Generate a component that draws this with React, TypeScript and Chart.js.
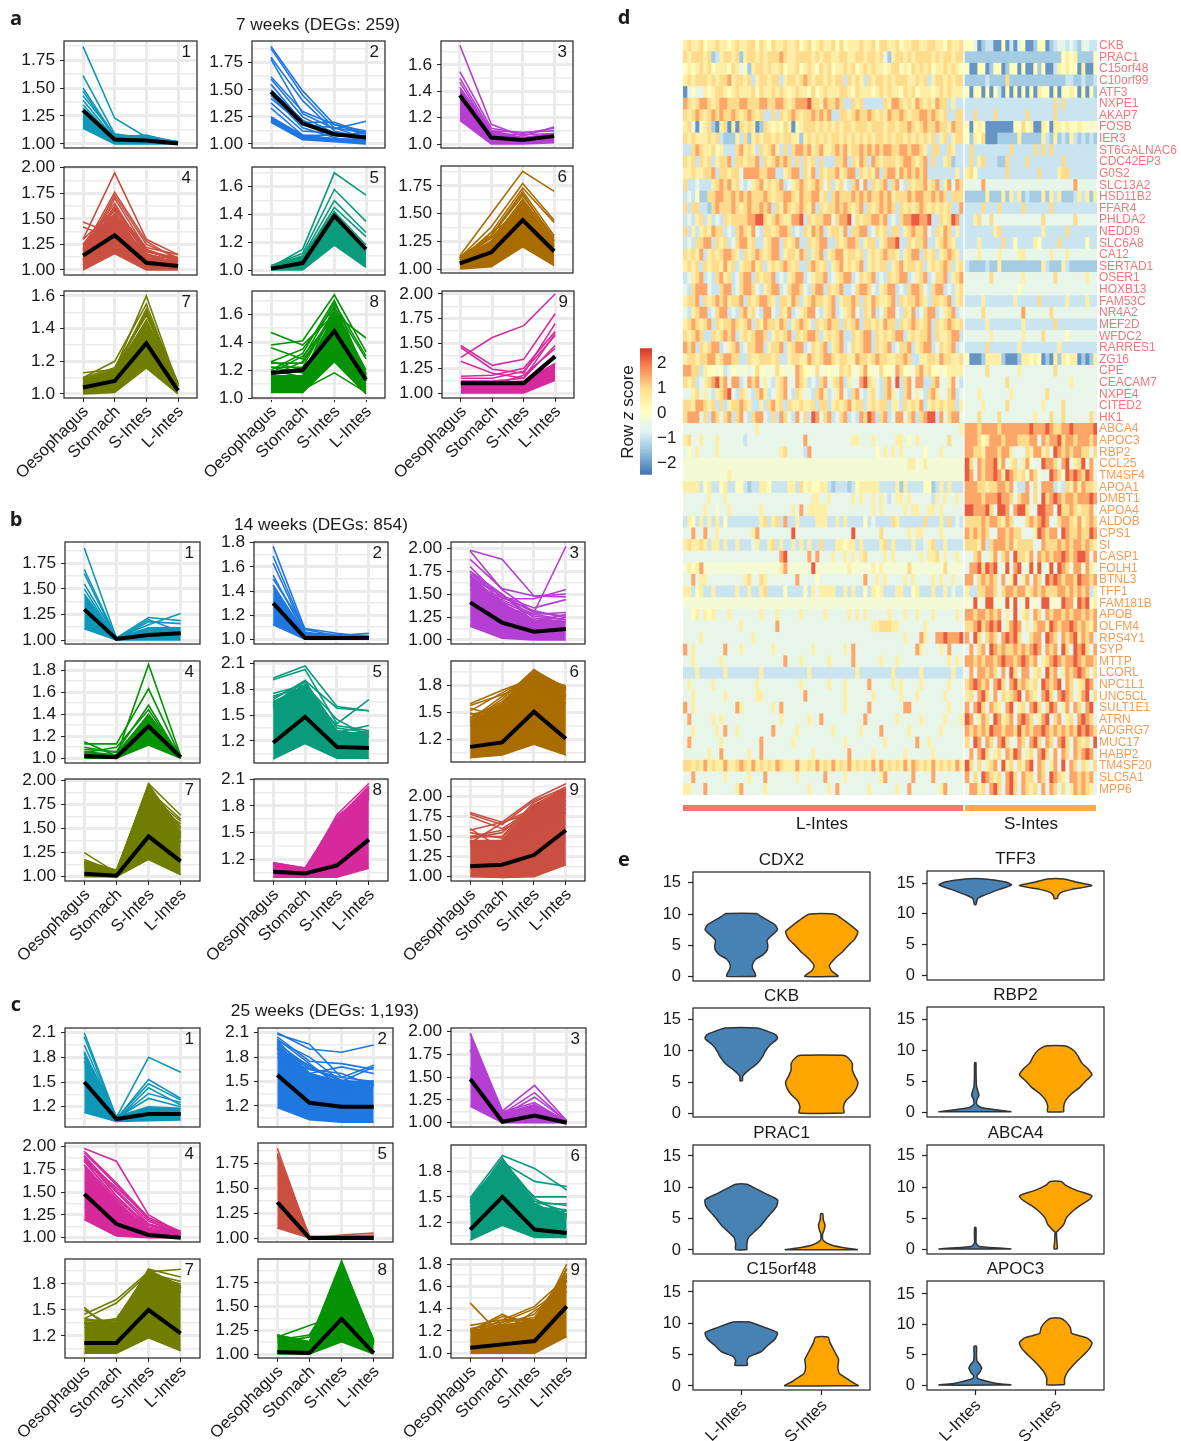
import React, { useEffect, useRef } from 'react';
import { Chart, registerables } from 'chart.js';
Chart.register(...registerables);

const FONT = '"Liberation Sans", Arial, sans-serif';
Chart.defaults.font.family = FONT;
Chart.defaults.color = '#1a1a1a';

/* ---------- line panels: a1..a9, b1..b9, c1..c9 ---------- */
const regionLabels = ['Oesophagus', 'Stomach', 'S-Intes', 'L-Intes'];
const cyan = '#0f97b8', blue = '#1f77e0', purple = '#b53fd2', red = '#c94f40', teal = '#0a9a7c', brown = '#a86c00', olive = '#6f7d00', green = '#059205', magenta = '#d62a9c';
const panelColors = [
  cyan, blue, purple, red, teal, brown, olive, green, magenta,
  cyan, blue, purple, green, teal, brown, olive, magenta, red,
  cyan, blue, purple, magenta, red, teal, olive, green, brown,
];
const t25 = ['1.00', '1.25', '1.50', '1.75'];
const t25b = ['1.00', '1.25', '1.50', '1.75', '2.00'];
const t2 = ['1.0', '1.2', '1.4', '1.6'];
const t28 = ['1.0', '1.2', '1.4', '1.6', '1.8'];
const t3 = ['1.2', '1.5', '1.8', '2.1'];
const t3s = ['1.2', '1.5', '1.8'];
const panelTicks = [
  t25, t25, t2, t25b, t2, t25, t2, t2, t25b,
  t25, t28, t25b, t28, t3, t3s, t25b, t3, t25b,
  t3, t3, t25b, t25b, t25, t3s, t3s, t25, t28,
];
const panelRanges = [
  [0.964, 1.92], [0.963, 1.95], [0.97, 1.782], [0.951, 2.007], [0.964, 1.742], [0.964, 1.928], [0.9755, 1.63], [1.0, 1.767], [0.95, 2.03],
  [0.961, 1.959], [0.961, 1.806], [0.956, 2.069], [0.957, 1.882], [0.945, 2.127], [0.952, 2.074], [0.955, 2.018], [0.956, 2.1], [0.946, 2.22],
  [0.953, 2.157], [0.942, 2.158], [0.953, 2.04], [0.953, 2.04], [0.96, 1.954], [0.953, 2.102], [0.946, 2.088], [0.958, 2.0], [0.958, 1.845],
];
const panelMeans = [
  [1.30, 1.04, 1.03, 1.005], [1.48, 1.19, 1.09, 1.06], [1.37, 1.05, 1.03, 1.06], [1.14, 1.34, 1.07, 1.04], [1.01, 1.05, 1.39, 1.15], [1.05, 1.15, 1.44, 1.16], [1.04, 1.08, 1.31, 1.02], [1.18, 1.20, 1.48, 1.13], [1.10, 1.10, 1.10, 1.37],
  [1.30, 1.01, 1.05, 1.065], [1.30, 1.01, 1.01, 1.01], [1.41, 1.19, 1.09, 1.12], [1.02, 1.01, 1.29, 1.01], [1.18, 1.48, 1.13, 1.12], [1.12, 1.17, 1.51, 1.21], [1.03, 1.01, 1.42, 1.16], [1.06, 1.04, 1.13, 1.42], [1.13, 1.15, 1.27, 1.58],
  [1.50, 1.05, 1.11, 1.11], [1.58, 1.24, 1.19, 1.19], [1.48, 1.01, 1.08, 1.0], [1.48, 1.15, 1.03, 1.0], [1.36, 1.0, 1.0, 1.0], [1.12, 1.50, 1.12, 1.08], [1.12, 1.12, 1.50, 1.23], [1.02, 1.01, 1.37, 1.01], [1.05, 1.08, 1.11, 1.42],
];
const panelLows = [
  [1.14, 1.0, 1.0, 1.0], [1.20, 1.04, 1.02, 1.0], [1.18, 1.0, 1.0, 1.01], [1.0, 1.16, 1.0, 1.0], [1.0, 1.0, 1.18, 1.02], [1.0, 1.02, 1.2, 1.03], [1.0, 1.01, 1.16, 1.0], [1.04, 1.04, 1.26, 1.03], [1.0, 1.0, 1.0, 1.13],
  [1.11, 1.0, 1.0, 1.0], [1.12, 1.0, 1.0, 1.0], [1.15, 1.02, 1.0, 1.0], [1.0, 1.0, 1.12, 1.0], [0.99, 1.17, 1.0, 1.0], [1.0, 1.03, 1.15, 1.03], [1.0, 1.0, 1.18, 1.02], [1.0, 1.0, 1.0, 1.1], [1.0, 0.99, 1.0, 1.15],
  [1.13, 1.02, 1.03, 1.04], [1.18, 1.03, 1.0, 1.0], [1.18, 1.0, 1.0, 1.0], [1.2, 1.02, 1.0, 1.0], [1.1, 1.0, 1.0, 1.0], [1.0, 1.17, 1.03, 1.03], [1.0, 1.0, 1.18, 1.03], [1.0, 1.0, 1.13, 1.0], [1.0, 1.0, 1.0, 1.15],
];
const panelHighs = [
  [1.30, 1.05, 1.05, 1.02], [1.25, 1.08, 1.05, 1.04], [1.43, 1.1, 1.05, 1.08], [1.25, 1.55, 1.12, 1.09], [1.03, 1.1, 1.42, 1.14], [1.1, 1.25, 1.6, 1.22], [1.09, 1.14, 1.45, 1.06], [1.16, 1.16, 1.6, 1.14], [1.1, 1.1, 1.12, 1.3],
  [1.45, 1.02, 1.12, 1.12], [1.45, 1.04, 1.03, 1.02], [1.7, 1.4, 1.22, 1.2], [1.06, 1.03, 1.4, 1.02], [1.65, 1.85, 1.3, 1.28], [1.4, 1.6, 1.95, 1.75], [1.15, 1.06, 1.95, 1.45], [1.16, 1.1, 1.65, 2.0], [1.45, 1.45, 1.9, 2.1],
  [1.85, 1.08, 1.2, 1.18], [1.95, 1.6, 1.5, 1.5], [1.98, 1.1, 1.2, 1.02], [1.8, 1.4, 1.1, 1.04], [1.85, 1.02, 1.01, 1.02], [1.45, 1.9, 1.4, 1.3], [1.35, 1.35, 1.95, 1.75], [1.2, 1.12, 1.92, 1.12], [1.2, 1.25, 1.3, 1.7],
];
const panelLines = [
  [[1.87, 1.23, 1.06, 1.02], [1.61, 1.09, 1.05, 1.01], [1.50, 1.07, 1.07, 1.02], [1.47, 1.06, 1.08, 1.01], [1.43, 1.08, 1.05, 1.01], [1.39, 1.05, 1.04, 1.02], [1.35, 1.04, 1.07, 1.01], [1.32, 1.06, 1.03, 1.01]],
  [[1.90, 1.49, 1.18, 1.09], [1.88, 1.45, 1.15, 1.10], [1.80, 1.40, 1.12, 1.05], [1.78, 1.28, 1.14, 1.21], [1.62, 1.3, 1.18, 1.12], [1.6, 1.25, 1.1, 1.06], [1.55, 1.2, 1.2, 1.1], [1.5, 1.22, 1.08, 1.08], [1.45, 1.15, 1.06, 1.12], [1.42, 1.18, 1.15, 1.05], [1.38, 1.12, 1.1, 1.03], [1.33, 1.08, 1.08, 1.1], [1.25, 1.06, 1.04, 1.02], [1.22, 1.05, 1.1, 1.06]],
  [[1.75, 1.15, 1.06, 1.13], [1.55, 1.12, 1.08, 1.12], [1.5, 1.1, 1.09, 1.1], [1.47, 1.08, 1.07, 1.08]],
  [[1.47, 1.35, 1.1, 1.05], [1.42, 1.3, 1.05, 1.12], [1.3, 1.95, 1.3, 1.15], [1.2, 1.76, 1.28, 1.1], [1.15, 1.73, 1.25, 1.12], [1.1, 1.7, 1.2, 1.08], [1.25, 1.65, 1.15, 1.05], [1.08, 1.6, 1.22, 1.15], [1.05, 1.55, 1.12, 1.05], [1.12, 1.5, 1.15, 1.1], [1.18, 1.6, 1.2, 1.1], [1.22, 1.62, 1.14, 1.07], [1.1, 1.62, 1.18, 1.12], [1.3, 1.58, 1.16, 1.06], [1.15, 1.55, 1.18, 1.1]],
  [[1.02, 1.15, 1.7, 1.54], [1.03, 1.12, 1.58, 1.35], [1.02, 1.1, 1.5, 1.27], [1.01, 1.08, 1.45, 1.24], [1.0, 1.05, 1.42, 1.18]],
  [[1.12, 1.5, 1.88, 1.7], [1.1, 1.38, 1.77, 1.44], [1.08, 1.33, 1.73, 1.42], [1.06, 1.3, 1.68, 1.25], [1.05, 1.25, 1.62, 1.22], [1.04, 1.22, 1.55, 1.2], [1.1, 1.28, 1.5, 1.18], [1.1, 1.3, 1.66, 1.28], [1.09, 1.28, 1.6, 1.24], [1.11, 1.3, 1.7, 1.3], [1.06, 1.25, 1.63, 1.26], [1.08, 1.33, 1.52, 1.2]],
  [[1.13, 1.15, 1.6, 1.05], [1.1, 1.2, 1.55, 1.04], [1.09, 1.14, 1.5, 1.06], [1.06, 1.12, 1.45, 1.03], [1.03, 1.1, 1.38, 1.05], [1.08, 1.1, 1.41, 1.02], [1.1, 1.16, 1.48, 1.05], [1.07, 1.14, 1.52, 1.07], [1.09, 1.15, 1.44, 1.03], [1.05, 1.16, 1.5, 1.06]],
  [[1.47, 1.38, 1.6, 1.43], [1.38, 1.41, 1.74, 1.33], [1.36, 1.28, 1.68, 1.3], [1.26, 1.35, 1.65, 1.28], [1.25, 1.25, 1.6, 1.17], [1.22, 1.18, 1.55, 1.15], [1.2, 1.32, 1.7, 1.16], [1.15, 1.12, 1.5, 1.12], [1.1, 1.08, 1.4, 1.1], [1.08, 1.06, 1.18, 1.04], [1.05, 1.04, 1.35, 1.06], [1.12, 1.15, 1.3, 1.08], [1.22, 1.22, 1.63, 1.2], [1.18, 1.3, 1.58, 1.17], [1.2, 1.15, 1.66, 1.15], [1.26, 1.2, 1.52, 1.12], [1.16, 1.26, 1.62, 1.18]],
  [[1.36, 1.56, 1.68, 2.0], [1.48, 1.28, 1.34, 1.8], [1.46, 1.24, 1.2, 1.7], [1.32, 1.2, 1.15, 1.6], [1.17, 1.18, 1.25, 1.62], [1.15, 1.15, 1.22, 1.58], [1.12, 1.12, 1.15, 1.48], [1.1, 1.08, 1.18, 1.45]],
  [[1.9, 1.02, 1.06, 1.05], [1.69, 1.02, 1.22, 1.19], [1.65, 1.01, 1.2, 1.08], [1.55, 1.02, 1.15, 1.26], [1.5, 1.0, 1.18, 1.16]],
  [[1.77, 1.08, 1.03, 1.05], [1.69, 1.06, 1.02, 1.02], [1.63, 1.05, 1.04, 1.03], [1.53, 1.04, 1.03, 1.02], [1.5, 1.09, 1.05, 1.02]],
  [[1.98, 1.88, 1.48, 1.5], [1.97, 1.55, 1.3, 2.02], [1.88, 1.56, 1.48, 1.47], [1.8, 1.45, 1.45, 1.55], [1.75, 1.5, 1.2, 1.28], [1.7, 1.48, 1.35, 1.44], [1.65, 1.42, 1.12, 1.25], [1.6, 1.35, 1.28, 1.3], [1.75, 1.42, 1.26, 1.22], [1.68, 1.48, 1.3, 1.26], [1.72, 1.5, 1.24, 1.2], [1.62, 1.46, 1.32, 1.24], [1.55, 1.44, 1.28, 1.22]],
  [[1.15, 1.02, 1.85, 1.02], [1.13, 1.13, 1.63, 1.01], [1.08, 1.06, 1.48, 1.0], [1.05, 1.1, 1.44, 1.01], [1.1, 1.05, 1.38, 1.02]],
  [[1.93, 2.07, 1.6, 1.55], [1.91, 2.03, 1.4, 1.68], [1.75, 1.85, 1.3, 1.38], [1.68, 1.9, 1.58, 1.55], [1.65, 1.8, 1.22, 1.3], [1.6, 1.85, 1.45, 1.25], [1.7, 1.88, 1.35, 1.3], [1.72, 1.82, 1.32, 1.27], [1.62, 1.9, 1.3, 1.24], [1.66, 1.78, 1.38, 1.32], [1.58, 1.84, 1.28, 1.3]],
  [[1.6, 1.75, 1.88, 1.78], [1.58, 1.7, 1.85, 1.7], [1.52, 1.72, 1.9, 1.65], [1.55, 1.45, 1.92, 1.78], [1.5, 1.35, 1.8, 1.6], [1.4, 1.65, 1.98, 1.75], [1.35, 1.5, 1.9, 1.68], [1.45, 1.62, 1.97, 1.78], [1.48, 1.55, 1.95, 1.75], [1.42, 1.68, 1.93, 1.7], [1.38, 1.52, 1.96, 1.77], [1.44, 1.6, 1.9, 1.8]],
  [[1.25, 1.04, 1.97, 1.64], [1.15, 1.05, 1.9, 1.6], [1.12, 1.02, 1.85, 1.58], [1.08, 1.05, 1.8, 1.55], [1.1, 1.03, 1.75, 1.44], [1.05, 1.02, 1.72, 1.4], [1.16, 1.07, 1.95, 1.5], [1.18, 1.05, 1.93, 1.42], [1.14, 1.06, 1.9, 1.52], [1.12, 1.05, 1.96, 1.47], [1.13, 1.06, 1.88, 1.36]],
  [[1.15, 1.06, 1.7, 2.05], [1.14, 1.05, 1.6, 1.95], [1.1, 1.07, 1.5, 1.9], [1.08, 1.05, 1.4, 1.93], [1.12, 1.04, 1.45, 1.88], [1.16, 1.1, 1.65, 2.02], [1.12, 1.09, 1.68, 1.96], [1.14, 1.08, 1.6, 2.0], [1.1, 1.1, 1.55, 1.98], [1.15, 1.07, 1.5, 1.94]],
  [[1.8, 1.68, 1.97, 2.16], [1.78, 1.65, 1.95, 2.1], [1.75, 1.6, 1.85, 2.05], [1.6, 1.35, 1.7, 2.0], [1.58, 1.68, 1.8, 1.95], [1.42, 1.67, 1.85, 1.9], [1.45, 1.4, 1.6, 1.85], [1.38, 1.45, 1.7, 1.8], [1.5, 1.5, 1.93, 2.12], [1.48, 1.55, 1.88, 2.05], [1.55, 1.48, 1.9, 2.0], [1.42, 1.45, 1.84, 2.08], [1.5, 1.58, 1.8, 2.02]],
  [[2.1, 1.07, 1.8, 1.62], [2.05, 1.05, 1.53, 1.3], [1.95, 1.06, 1.48, 1.28], [1.87, 1.04, 1.43, 1.22], [1.8, 1.05, 1.36, 1.25], [1.75, 1.06, 1.3, 1.2]],
  [[2.1, 1.9, 1.86, 1.95], [2.08, 1.96, 1.55, 1.7], [2.05, 1.75, 1.72, 1.65], [2.0, 1.8, 1.5, 1.68], [1.95, 1.6, 1.68, 1.6], [1.9, 1.7, 1.45, 1.5], [1.85, 1.55, 1.5, 1.5], [1.8, 1.65, 1.6, 1.45], [1.98, 1.65, 1.55, 1.5], [2.0, 1.6, 1.48, 1.45], [1.97, 1.68, 1.5, 1.5], [2.02, 1.72, 1.42, 1.48], [1.92, 1.66, 1.52, 1.46], [1.9, 1.58, 1.47, 1.5]],
  [[1.98, 1.13, 1.41, 1.02], [1.8, 1.1, 1.33, 1.01], [1.6, 1.08, 1.28, 1.02], [1.5, 1.12, 1.22, 1.01]],
  [[1.98, 1.84, 1.25, 1.05], [1.95, 1.6, 1.22, 1.07], [1.93, 1.58, 1.2, 1.03], [1.9, 1.52, 1.18, 1.05], [1.85, 1.55, 1.22, 1.04], [1.85, 1.42, 1.15, 1.06], [1.86, 1.5, 1.15, 1.05], [1.88, 1.46, 1.12, 1.05], [1.84, 1.42, 1.14, 1.04], [1.9, 1.45, 1.1, 1.04]],
  [[1.9, 1.0, 1.03, 1.05], [1.82, 1.01, 1.02, 1.03]],
  [[1.49, 1.98, 1.83, 1.58], [1.45, 1.9, 1.68, 1.62], [1.42, 1.85, 1.5, 1.5], [1.38, 1.8, 1.45, 1.4], [1.35, 1.75, 1.38, 1.35], [1.3, 1.88, 1.42, 1.42], [1.46, 1.92, 1.45, 1.33], [1.44, 1.95, 1.4, 1.3], [1.48, 1.9, 1.35, 1.33], [1.38, 1.93, 1.48, 1.28], [1.42, 1.87, 1.42, 1.26]],
  [[1.53, 1.2, 1.97, 1.88], [1.45, 1.62, 1.94, 1.97], [1.4, 1.58, 1.92, 1.83], [1.5, 1.28, 1.92, 1.78], [1.35, 1.38, 1.9, 1.8], [1.3, 1.25, 1.85, 1.75], [1.38, 1.38, 1.96, 1.78], [1.36, 1.36, 1.97, 1.7], [1.34, 1.4, 1.94, 1.76], [1.4, 1.34, 1.96, 1.72]],
  [[1.2, 1.1, 1.95, 1.15], [1.18, 1.3, 1.42, 1.1], [1.15, 1.2, 1.75, 1.13], [1.12, 1.18, 1.7, 1.1], [1.2, 1.13, 1.96, 1.14], [1.18, 1.12, 1.98, 1.12]],
  [[1.45, 1.15, 1.25, 1.6], [1.22, 1.18, 1.22, 1.8], [1.2, 1.35, 1.2, 1.76], [1.18, 1.3, 1.42, 1.68], [1.15, 1.22, 1.28, 1.65], [1.1, 1.28, 1.4, 1.6], [1.12, 1.18, 1.38, 1.55], [1.22, 1.28, 1.32, 1.72], [1.25, 1.3, 1.3, 1.75], [1.2, 1.33, 1.28, 1.66], [1.22, 1.26, 1.35, 1.7]],
];
/* plot rectangles [x0, y0, x1, y1] of the line panels */
const panelBoxes = [
  [64, 41, 197, 148], [252, 41, 385, 148], [441, 41, 573, 148],
  [64, 167, 197, 275], [252, 167, 385, 275], [441, 166, 573, 273],
  [64, 291, 197, 398], [252, 291, 385, 398], [442, 291, 574, 398],
  [65, 542, 200, 644], [254, 542, 388, 644], [451, 542, 585, 644],
  [65, 661, 200, 763], [254, 661, 388, 763], [451, 661, 585, 762],
  [65, 779, 200, 881], [254, 779, 388, 881], [451, 779, 585, 881],
  [65, 1028, 200, 1127], [258, 1028, 393, 1127], [451, 1028, 586, 1127],
  [65, 1143, 200, 1242], [258, 1143, 393, 1242], [451, 1145, 586, 1244],
  [65, 1259, 200, 1358], [258, 1259, 393, 1358], [451, 1259, 586, 1358],
];

/* ---------- heat map ---------- */
const upGenes = ['CKB', 'PRAC1', 'C15orf48', 'C10orf99', 'ATF3', 'NXPE1', 'AKAP7', 'FOSB', 'IER3', 'ST6GALNAC6', 'CDC42EP3', 'G0S2', 'SLC13A2', 'HSD11B2', 'FFAR4', 'PHLDA2', 'NEDD9', 'SLC6A8', 'CA12', 'SERTAD1', 'OSER1', 'HOXB13', 'FAM53C', 'NR4A2', 'MEF2D', 'WFDC2', 'RARRES1', 'ZG16', 'CPE', 'CEACAM7', 'NXPE4', 'CITED2', 'HK1'];
const downGenes = ['ABCA4', 'APOC3', 'RBP2', 'CCL25', 'TM4SF4', 'APOA1', 'DMBT1', 'APOA4', 'ALDOB', 'CPS1', 'SI', 'CASP1', 'FOLH1', 'BTNL3', 'TFF1', 'FAM181B', 'APOB', 'OLFM4', 'RPS4Y1', 'SYP', 'MTTP', 'LCORL', 'NPC1L1', 'UNC5CL', 'SULT1E1', 'ATRN', 'ADGRG7', 'MUC17', 'HABP2', 'TM4SF20', 'SLC5A1', 'MPP6'];
const heatLevels = [-2.1, -1.4, -1.0, -0.55, -0.25, 0.1, 0.5, 0.95, 1.5, 2.2];
const heatLeft = [
  '6766756676656766775765766766756756766757566676675776675667766776657667',
  '7677767126776716776767778766777767677667766776776731677676777767677677',
  '5656767566657635167767667566756765767566767567676656775657676756676765',
  '6767776767786776726776772677678767767677276762767767677766767267767677',
  '0353365677656766675766767656766575676667765766656767665767566656767666',
  '8767887678877788777887788767888977687787227672222276887676876768772622',
  '7678767878778767876722727678767787878227767877876768778767788787672277',
  '6730567106706076760176565760567776767676776777677767767787678778776877',
  '7676667672111627167677676776616767676776767676767767677676767672672677',
  '2278766756222786762767862727887867866787867787878788778878876277227622',
  '7672767267782776778276787872727672722277827687287677767887678272267122',
  '6676677827767738888778822678827682767786788276768278868787878222222262',
  '7223222678786732367867678236787678737267327838276782783276778678268387',
  '2325117788778787877787677887687788672787778787877878677787887787872777',
  '7277221787778767877878276876787682767787876782767878727676787676767228',
  '2326726232767777889976787668892767788378893767788782327889988922767982',
  '7262676877232787683277678872327687826776827788237672772678778327687262',
  '2327788276723788672267882767822767882276788726772678892276778226787622',
  '7676826767887627678767882677687267826788677672676787762678827672678762',
  '6767276776867267786726767876722787672678676782676772678677672676787267',
  '2367823278672378827677823267882367782367882376782327678823678237782678',
  '3278883227882378873267882378873278827678223788732678823278873278823267',
  '6778276787867782767887627768726787767826778727687667827677876277678267',
  '3267882378823278673288327682367883267823678327682378832768237882367823',
  '6787678276778767827687768726787627678772767827767687727678767827678767',
  '7678722767878267678872676782767887267678227678827676788267677827667882',
  '8782767882367823778826778267882376782678237678827678237782678823767823',
  '6776778867887722766777672267766876788767766877678776677872266776877667',
  '8877265545235444347544475444875547445447674468544755487544786755456666',
  '7672367897838823878363267833876232783678263389763278392783882278336832',
  '3367363267893276327862367832763327862368327832673278632783632786337823',
  '7768876727267787622627867276676672772676786772676772662767682676767726',
  '7888372873782783278832728732837298378237823287982782388378278992837883',
  '3333333333333333336333333333333333333333333333333333333333333333333336',
  '6733633363333332333333333333338333333333336633363333366353633333337333',
  '3536333363333333333333336733332833333333333333335363636333335333633333',
  '4444444444444444444444444444444444444444444444444444444466446444444444',
  '4444444444464444444444444444444444444444444444444444444444444444444444',
  '6666256225622552122665222266275655662122212566666222261622225512626222',
  '3333336333633333333333333333333366336333336363363632366363333326363363',
  '3333363343363333333633333336383666663333333333363633333636633663633333',
  '2652626262522222222672672822622226662262622225232222762222227222627232',
  '3383383363333333368333333339333333333333339333333733333363663333633333',
  '6766762662622622236226726226262622722266566262222672622226223672262222',
  '3333333333333333333333338933333838333633636367333363633333363667363363',
  '4656844444444444444444446844444494444444464444464644444474444444474444',
  '3383663333333336733763333333833335333333333338336363333636333363633633',
  '6625622622222622622672222522225263666622626225265622266225622262262322',
  '4444444444444444444444444444444444444444444444444444444444444444444444',
  '3356365633363333333633363333363333363333363636333336333633633363333363',
  '3333333333333363333333383333333333333333333333366777663333336333333333',
  '3333633333333333363333333333333333333333333333333333333633386338898889',
  '8363333333833363333333633333333363333333638333333333333333863333638333',
  '3363333336333333333333333833363333336333338333333633363333333333336363',
  '2226222222622222222622222222222622222222222622222222622222262222222622',
  '3633333633333333336333333333363333336333633333833333636333363333336333',
  '3363333333633333336633333333338333333333633333363333336333633333363333',
  '8363333333333863333333638333333333333333633333833333333883333333336333',
  '3833333636333333333333336333333633833333333338333333363333363333363336',
  '3363333363833633333333833333633333333633333363333833333363333333633333',
  '3833333336333333333833333336333333333333633333333363333333833633333333',
  '3333336338333333633833333333333363333333383333363333333633333363333333',
  '7767686766866787686767687666866768676867686767686867676868767686767686',
  '3383333333633333633383333333633333383333633333333683333338333383333333',
  '6633383333333683333363333333333633336383333333633333363383333333683333',
];
const heatRight = [
  '553012200502035001550123323213322',
  '111111111111111111111111565611115',
  '500550155015505005150026565506005',
  '111112111171111111111111122112112',
  '505505052050505050655050556505051',
  '222222222222222222222272722222222',
  '227222272222222722222272222222222',
  '505650000000557560065066565565545',
  '516570001111161111162161216212121',
  '272222222227222227272722222222222',
  '272672221172222722222222722222222',
  '675222222272222222722226772222222',
  '333383333333333333333333333833333',
  '111116111616261211161626111262616',
  '222272227222227222222722222222222',
  '226733733333333333373333333733333',
  '222222267222222222262222272222222',
  '222622222722522226522227222222522',
  '333633336333366333333633363333333',
  '211112116111111111162111621111111',
  '333333733333336333333373333333633',
  '333333333333353333333333333333333',
  '222262222222622222722222262222622',
  '333373333333338333333733333333333',
  '222226222222226222222272222222222',
  '333333633333336333373333353333333',
  '222227222222262222222226222222222',
  '500016666100016656501061656601016',
  '333337333333363333333373333333333',
  '333333333373333333333333336333333',
  '333633333336333333337333333333333',
  '333363333373333333363333733333333',
  '333733337333333336333733733333373',
  '888788887888888898889877889888889',
  '888756888788877788387889788788878',
  '887768887886333768867398787887737',
  '973878896836736843398873893679384',
  '983878898698767487433987498987983',
  '888776778878322837388823276868776',
  '888878889887378837397898788788898',
  '998889739983899733998839778767783',
  '777787887687333787898337887686787',
  '878787338878773336987883987787798',
  '777682788878677773387778787887876',
  '337833683783977683878788987899838',
  '388979893493893494934939874884864',
  '883787873836936838739898788798878',
  '622778873788788678787778878787826',
  '449439944394934944399444988498946',
  '887887878363936738738788787887878',
  '778978989368983637886987889878768',
  '839737873898973378839873878968783',
  '383783987877878789838783973989738',
  '887878878988789878367898788987887',
  '383887873839738836739783687898737',
  '789878389738978767398789387367983',
  '673897383767893876389738987368937',
  '838973876389367389737983683873893',
  '983687398678389873689378367389873',
  '878787988788797878898787878798987',
  '739838738973387389738738973876739',
  '383897367387983673897383873878983',
  '973736783967376893873683938737637',
  '837398767389738773873987638878783',
  '388673897389738767383873736878763',
];
const annotationColors = ['#f8766d', '#ffa94d'];

/* ---------- violins: [level, half width] ---------- */
const violinGenes = ['CDX2', 'CKB', 'PRAC1', 'C15orf48', 'TFF3', 'RBP2', 'ABCA4', 'APOC3'];
const violinGroups = ['L-Intes', 'S-Intes'];
const violinRanges = [[-0.69, 16.75], [-0.6, 16.9], [-0.64, 16.75], [-0.64, 16.75], [-0.8, 17], [-0.8, 17], [-0.75, 16.75], [-0.82, 17.14]];
const violinL = [
  [[0.05, 0.18], [0.6, 0.17], [1.3, 0.14], [2, 0.14], [2.8, 0.18], [3.5, 0.27], [4.2, 0.32], [5, 0.33], [5.8, 0.32], [6.5, 0.37], [7.5, 0.45], [8.3, 0.42], [9, 0.33], [9.6, 0.25], [10.1, 0.19]],
  [[5.2, 0.015], [6, 0.02], [7, 0.1], [8, 0.2], [9, 0.26], [10, 0.3], [11, 0.36], [12, 0.45], [12.6, 0.43], [13.3, 0.3], [13.7, 0.2]],
  [[0.05, 0.07], [1, 0.07], [2, 0.09], [3, 0.17], [4, 0.25], [5, 0.31], [6, 0.38], [7, 0.44], [8, 0.45], [9, 0.3], [10, 0.15], [10.5, 0.07]],
  [[3.3, 0.08], [4, 0.07], [4.7, 0.1], [5.5, 0.25], [6.5, 0.33], [7.5, 0.42], [8.5, 0.45], [9.3, 0.3], [10.2, 0.1]],
  [[11.5, 0.01], [12.5, 0.03], [13, 0.1], [14, 0.3], [14.7, 0.45], [15.2, 0.38], [15.7, 0.12]],
  [[0.05, 0.45], [0.3, 0.3], [0.7, 0.08], [1.2, 0.02], [2, 0.02], [2.7, 0.045], [3.3, 0.035], [4.2, 0.015], [6, 0.01], [8, 0.008]],
  [[0.05, 0.45], [0.2, 0.3], [0.45, 0.05], [1, 0.01], [2, 0.01], [3.5, 0.008]],
  [[0, 0.45], [0.3, 0.25], [0.7, 0.12], [1.1, 0.03], [1.5, 0.02], [2, 0.05], [2.8, 0.08], [3.5, 0.05], [4, 0.02], [5, 0.015], [6.4, 0.015]],
];
const violinS = [
  [[0.05, 0.21], [1, 0.12], [1.8, 0.095], [3, 0.17], [4, 0.26], [5, 0.33], [6, 0.41], [7.2, 0.45], [8, 0.38], [9, 0.28], [10, 0.16]],
  [[0.05, 0.28], [1, 0.27], [2, 0.3], [3, 0.38], [4, 0.43], [5, 0.45], [6, 0.41], [7, 0.38], [8, 0.38], [9, 0.32], [9.3, 0.26]],
  [[0.05, 0.45], [0.3, 0.3], [0.8, 0.12], [1.5, 0.02], [2.5, 0.01], [3.2, 0.03], [4, 0.04], [4.8, 0.02], [5.8, 0.012]],
  [[0.05, 0.46], [0.6, 0.38], [1.3, 0.3], [2, 0.22], [3, 0.2], [4.2, 0.21], [5, 0.18], [6, 0.14], [7, 0.1], [7.8, 0.08]],
  [[12.5, 0.02], [13, 0.03], [13.5, 0.07], [14, 0.2], [14.6, 0.45], [15.2, 0.25], [15.7, 0.1]],
  [[0.05, 0.1], [1, 0.1], [2, 0.13], [3, 0.2], [4, 0.3], [5, 0.37], [6, 0.45], [7, 0.4], [8, 0.32], [9, 0.28], [10, 0.22], [10.7, 0.12]],
  [[0.05, 0.02], [0.5, 0.02], [1, 0.015], [2.8, 0.01], [3, 0.03], [4, 0.1], [5, 0.13], [6, 0.2], [7, 0.3], [8, 0.42], [8.6, 0.45], [9.5, 0.25], [10.3, 0.12], [10.9, 0.07]],
  [[0.05, 0.11], [1, 0.11], [2, 0.14], [3, 0.2], [4, 0.27], [5, 0.35], [6, 0.42], [7, 0.45], [7.8, 0.38], [8.5, 0.2], [9.5, 0.18], [10.5, 0.12], [11, 0.06]],
];
const violinColors = ['#4682b4', '#ffa500'];
const violinBoxes = [
  [693, 872, 870, 981], [693, 1008, 870, 1117], [693, 1145, 870, 1254], [693, 1281, 870, 1390],
  [927, 871, 1104, 980], [927, 1007, 1104, 1117], [927, 1145, 1104, 1254], [927, 1281, 1104, 1390],
];

/* ---------- colour scale (RdYlBu, reversed) ---------- */
const scaleStops = [[-2.46, 0x45, 0x75, 0xb4], [-1.62, 0x91, 0xbf, 0xdb], [-0.77, 0xe0, 0xf3, 0xf8], [0.07, 0xff, 0xff, 0xbf], [0.91, 0xfe, 0xe0, 0x90], [1.76, 0xfc, 0x8d, 0x59], [2.6, 0xd7, 0x30, 0x27]];
const zScale = (v: number) => {
  for (let i = 0; i < scaleStops.length - 1; i++) {
    const a = scaleStops[i], b = scaleStops[i + 1];
    if (v <= b[0]) {
      const t = Math.max(0, (v - a[0]) / (b[0] - a[0]));
      return `rgb(${[1, 2, 3].map((k) => Math.round(a[k] + (b[k] - a[k]) * t)).join(',')})`;
    }
  }
  return '#d73027';
};

const GRID = '#ebebeb';
const INK = '#222222';

const framePlugin = {
  id: 'frame',
  afterDatasetsDraw(chart: any) {
    const { ctx, chartArea: a } = chart;
    ctx.save();
    ctx.strokeStyle = INK;
    ctx.lineWidth = 1.2;
    ctx.strokeRect(a.left, a.top, a.width, a.height);
    ctx.restore();
  },
};

const violinFillPlugin = {
  id: 'violinFill',
  beforeDatasetsDraw(chart: any) {
    const { ctx, chartArea } = chart;
    chart.data.datasets.forEach((ds: any, i: number) => {
      const line = chart.getDatasetMeta(i).dataset;
      line.updateControlPoints(chartArea);
      ctx.save();
      ctx.beginPath();
      line.path(ctx);
      ctx.closePath();
      ctx.fillStyle = ds.backgroundColor;
      ctx.fill();
      ctx.restore();
    });
  },
};

const xy = (vals: number[]) => vals.map((y, x) => ({ x, y }));

function panelConfig(i: number, bottom: boolean, B: number, L: number, T: number, R: number) {
  const color = panelColors[i];
  const [ymin, ymax] = panelRanges[i];
  const labels = panelTicks[i];
  const majors = labels.map(Number);
  const step = majors[1] - majors[0];
  const all: number[] = [];
  for (let k = -4; k < 40; k++) {
    const v = majors[0] + (k * step) / 2;
    if (v >= ymin && v <= ymax) all.push(v);
  }
  const isMajor = (v: number) => majors.some((m) => Math.abs(m - v) < 1e-6);
  const thin = { borderColor: color, borderWidth: 1.6, pointRadius: 0, fill: false };
  return {
    type: 'line',
    data: {
      datasets: [
        { data: xy(panelMeans[i]), borderColor: '#000', borderWidth: 4, pointRadius: 0, fill: false },
        ...panelLines[i].map((l) => ({ ...thin, data: xy(l) })),
        { ...thin, data: xy(panelHighs[i]), fill: '+1', backgroundColor: color },
        { ...thin, data: xy(panelLows[i]) },
      ],
    },
    options: {
      responsive: false,
      animation: false,
      events: [],
      layout: { padding: { top: T, right: R, left: 0, bottom: 0 } },
      plugins: { legend: { display: false }, tooltip: { enabled: false }, title: { display: false } },
      scales: {
        x: {
          type: 'linear',
          min: -0.6,
          max: 3.6,
          afterBuildTicks: (s: any) => { s.ticks = [0, 1, 2, 3].map((value) => ({ value })); },
          afterFit: (s: any) => { s.height = B; },
          border: { display: false },
          grid: { color: GRID, lineWidth: 3, drawTicks: bottom, tickLength: 4, tickColor: INK, tickWidth: 1 },
          ticks: { display: bottom, autoSkip: false, minRotation: 45, maxRotation: 45, padding: 0, labelOffset: 3, font: { size: 16.7 }, color: '#1a1a1a', callback: (v: number) => regionLabels[v] },
        },
        y: {
          type: 'linear',
          min: ymin,
          max: ymax,
          afterBuildTicks: (s: any) => { s.ticks = all.map((value) => ({ value })); },
          afterFit: (s: any) => { s.width = L; },
          border: { display: false },
          grid: {
            color: GRID,
            lineWidth: (c: any) => (c.tick && isMajor(c.tick.value) ? 3 : 1.5),
            tickLength: 4,
            tickWidth: 1,
            tickColor: (c: any) => (c.tick && isMajor(c.tick.value) ? INK : 'transparent'),
          },
          ticks: { autoSkip: false, padding: 5, font: { size: 17.3 }, color: '#1a1a1a', callback: (v: number) => { const k = majors.findIndex((m) => Math.abs(m - v) < 1e-6); return k >= 0 ? labels[k] : ''; } },
        },
      },
    },
    plugins: [framePlugin],
  };
}

const violinLoop = (profile: number[][], center: number) => [
  ...profile.map(([y, w]) => ({ x: center + w, y })),
  ...[...profile].reverse().map(([y, w]) => ({ x: center - w, y })),
  { x: center + profile[0][1], y: profile[0][0] },
];

function violinConfig(i: number, bottom: boolean, B: number, L: number, T: number, R: number) {
  const [ymin, ymax] = violinRanges[i];
  return {
    type: 'scatter',
    data: {
      datasets: [violinL[i], violinS[i]].map((p, k) => ({
        data: violinLoop(p, k + 1),
        showLine: true,
        tension: 0.2,
        pointRadius: 0,
        borderColor: '#333333',
        borderWidth: 1.5,
        backgroundColor: violinColors[k],
        fill: false,
      })),
    },
    options: {
      responsive: false,
      animation: false,
      events: [],
      layout: { padding: { top: T, right: R, left: 0, bottom: 0 } },
      plugins: { legend: { display: false }, tooltip: { enabled: false } },
      scales: {
        x: {
          type: 'linear',
          min: 0.4,
          max: 2.6,
          afterBuildTicks: (s: any) => { s.ticks = [1, 2].map((value) => ({ value })); },
          afterFit: (s: any) => { s.height = B; },
          border: { display: false },
          grid: { drawOnChartArea: false, drawTicks: bottom, tickLength: 5, tickColor: INK, tickWidth: 1.2 },
          ticks: { display: bottom, autoSkip: false, minRotation: 45, maxRotation: 45, padding: 1, labelOffset: 3, font: { size: 16.5 }, color: '#1a1a1a', callback: (v: number) => violinGroups[v - 1] },
        },
        y: {
          type: 'linear',
          min: ymin,
          max: ymax,
          afterBuildTicks: (s: any) => { s.ticks = [0, 5, 10, 15].map((value) => ({ value })); },
          afterFit: (s: any) => { s.width = L; },
          border: { display: false },
          grid: { drawOnChartArea: false, tickLength: 5, tickColor: INK, tickWidth: 1.2 },
          ticks: { autoSkip: false, padding: 7, font: { size: 16.5 }, color: '#1a1a1a' },
        },
      },
    },
    plugins: [violinFillPlugin, framePlugin],
  };
}

const CELL = 4;
const GAP = 2;
function heatConfig() {
  const genes = [...upGenes, ...downGenes];
  const rowColor = (rows: string[], col: number) => rows.map((r) => zScale(heatLevels[Number(r[col] ?? '4')]));
  const lefts = Array.from({ length: 70 }, (_, c) => ({ data: genes.map(() => CELL), backgroundColor: rowColor(heatLeft, c) }));
  const gap = { data: genes.map(() => GAP), backgroundColor: 'rgba(255,255,255,0)' };
  const rights = Array.from({ length: 33 }, (_, c) => ({ data: genes.map(() => CELL), backgroundColor: rowColor(heatRight, c) }));
  return {
    type: 'bar',
    data: { labels: genes, datasets: [...lefts, gap, ...rights] },
    options: {
      indexAxis: 'y',
      responsive: false,
      animation: false,
      events: [],
      layout: { padding: { top: 14, bottom: 14 } },
      datasets: { bar: { barPercentage: 1, categoryPercentage: 1 } },
      plugins: { legend: { display: false }, tooltip: { enabled: false } },
      scales: {
        x: { stacked: true, display: false, min: 0, max: 70 * CELL + GAP + 33 * CELL },
        y: {
          stacked: true,
          position: 'right',
          afterFit: (s: any) => { s.width = 90; },
          border: { display: false },
          grid: { display: false, drawTicks: false },
          ticks: {
            autoSkip: false,
            padding: 2,
            font: { size: 12 },
            color: (c: any) => (c.index < upGenes.length ? '#f0787c' : '#f79c55'),
          },
        },
      },
    },
  };
}

function colorbarConfig() {
  const edges = Array.from({ length: 52 }, (_, k) => -2.46 + (k * 5.06) / 51);
  return {
    type: 'bar',
    data: {
      labels: ['z'],
      datasets: edges.slice(0, -1).map((e, k) => ({
        data: [[e, edges[k + 1] + 0.03]],
        backgroundColor: zScale((e + edges[k + 1]) / 2),
        grouped: false,
        barPercentage: 1,
        categoryPercentage: 1,
      })),
    },
    options: {
      responsive: false,
      animation: false,
      events: [],
      layout: { padding: { top: 14, bottom: 14 } },
      plugins: { legend: { display: false }, tooltip: { enabled: false } },
      scales: {
        x: { display: false },
        y: {
          position: 'right',
          min: -2.46,
          max: 2.6,
          afterBuildTicks: (s: any) => { s.ticks = [-2, -1, 0, 1, 2].map((value) => ({ value })); },
          afterFit: (s: any) => { s.width = 40; },
          border: { display: false },
          grid: { display: false, drawTicks: false },
          ticks: { padding: 5, font: { size: 17 }, color: '#1a1a1a', callback: (v: number) => String(v).replace('-', '\u2212') },
        },
      },
    },
  };
}

function Plot({ left, top, width, height, make }: any) {
  const ref = useRef<HTMLCanvasElement>(null);
  useEffect(() => {
    const chart = new Chart(ref.current as any, make());
    return () => chart.destroy();
  }, []);
  return <canvas ref={ref} width={width} height={height} style={{ position: 'absolute', left, top, width, height, display: 'block' }} />;
}

function Text({ x, y, children, size = 16, weight = 400, anchor = 'center', rotate = 0, family = FONT }: any) {
  const tx = anchor === 'center' ? '-50%' : anchor === 'right' ? '-100%' : '0';
  return (
    <span style={{ position: 'absolute', left: x, top: y, transform: `translate(${tx},-50%) rotate(${rotate}deg)`, fontSize: size, fontWeight: weight, fontFamily: family, lineHeight: 1, color: '#1a1a1a', whiteSpace: 'nowrap' }}>
      {children}
    </span>
  );
}

const headings = [
  { x: 318, y: 25, t: '7 weeks (DEGs: 259)' },
  { x: 321, y: 525, t: '14 weeks (DEGs: 854)' },
  { x: 325, y: 1011, t: '25 weeks (DEGs: 1,193)' },
];
const letters = [
  { x: 16, y: 18, t: 'a' }, { x: 16, y: 519, t: 'b' }, { x: 16, y: 1004, t: 'c' }, { x: 624, y: 17, t: 'd' }, { x: 624, y: 859, t: 'e' },
];

export default function App() {
  const PL = 62, PT = 20, PR = 3;
  const VL = 44, VT = 20, VR = 3;
  return (
    <div style={{ position: 'absolute', left: 0, top: 0, width: 1181, height: 1441, overflow: 'hidden', background: '#fff', fontFamily: FONT }}>
      {panelBoxes.map(([x0, y0, x1, y1], i) => {
        const bottom = i % 9 >= 6;
        const B = bottom ? 92 : 20;
        return <Plot key={i} left={x0 - PL} top={y0 - PT} width={x1 - x0 + PL + PR} height={y1 - y0 + PT + B} make={() => panelConfig(i, bottom, B, PL, PT, PR)} />;
      })}
      {panelBoxes.map(([, y0, x1], i) => (
        <Text key={i} x={x1 - 6} y={y0 + 10} anchor="right" size={17}>{(i % 9) + 1}</Text>
      ))}
      {headings.map((h) => <Text key={h.t} x={h.x} y={h.y} size={17.3}>{h.t}</Text>)}
      {letters.map((h) => <Text key={h.t} x={h.x} y={h.y} size={20} weight={700} family='"Open Sans", sans-serif'>{h.t}</Text>)}

      <Plot left={683} top={26} width={414 + 90} height={783} make={heatConfig} />
      <div style={{ position: 'absolute', left: 683, top: 805, width: 280, height: 6, background: annotationColors[0] }} />
      <div style={{ position: 'absolute', left: 965, top: 805, width: 131, height: 6, background: annotationColors[1] }} />
      <Text x={822} y={823} size={17}>L-Intes</Text>
      <Text x={1031} y={823} size={17}>S-Intes</Text>
      <Plot left={640} top={333} width={52} height={157} make={colorbarConfig} />
      <Text x={627} y={412} size={17} rotate={-90}>Row <i>z</i> score</Text>

      {violinBoxes.map(([x0, y0, x1, y1], i) => {
        const bottom = i % 4 === 3;
        const B = bottom ? 60 : 20;
        return <Plot key={i} left={x0 - VL} top={y0 - VT} width={x1 - x0 + VL + VR} height={y1 - y0 + VT + B} make={() => violinConfig(i, bottom, B, VL, VT, VR)} />;
      })}
      {violinBoxes.map(([x0, y0, x1], i) => (
        <Text key={i} x={(x0 + x1) / 2} y={y0 - 13} size={17}>{violinGenes[i]}</Text>
      ))}
    </div>
  );
}
